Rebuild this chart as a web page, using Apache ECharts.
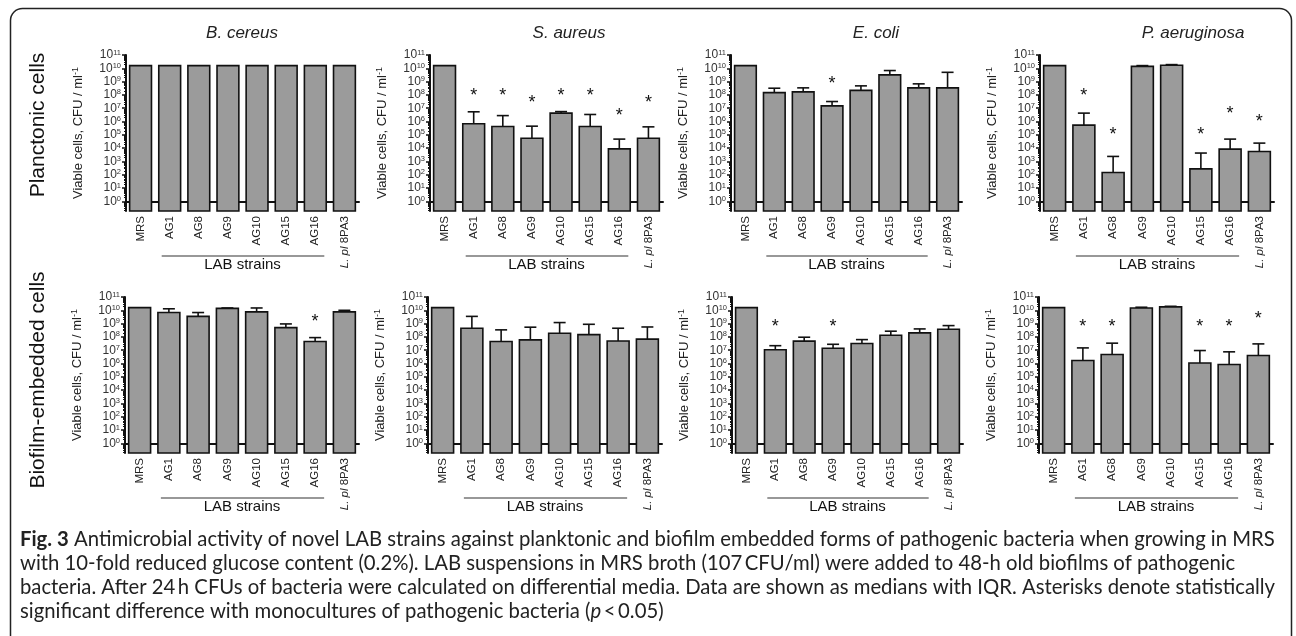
<!DOCTYPE html>
<html>
<head>
<meta charset="utf-8">
<script src="https://cdn.jsdelivr.net/npm/echarts@6/dist/echarts.min.js"></script>
<style>
  html, body { margin: 0; padding: 0; background: #fff; }
  #chart { width: 1296px; height: 636px; }
</style>
</head>
<body>
<div id="chart"></div>
<script>
// ── Data (CFU / ml, medians and upper quartile) ─────────────────────────────
const categories = ['MRS', 'AG1', 'AG8', 'AG9', 'AG10', 'AG15', 'AG16', 'L. pl 8PA3'];
const pathogens = ['B. cereus', 'S. aureus', 'E. coli', 'P. aeruginosa'];
const rowLabels = ['Planctonic cells', 'Biofilm-embedded cells'];
const yTickExponents = [0, 1, 2, 3, 4, 5, 6, 7, 8, 9, 10, 11];

// planktonic
const cereusPlankMedian = [1.6e10, 1.6e10, 1.6e10, 1.6e10, 1.6e10, 1.6e10, 1.6e10, 1.6e10];
const cereusPlankUpper  = [null, null, null, null, null, null, null, null];
const cereusPlankStar   = [null, null, null, null, null, null, null, null];

const aureusPlankMedian = [1.6e10, 6.8e5, 4.3e5, 5.6e4, 4.3e6, 4.3e5, 8.9e3, 5.6e4];
const aureusPlankUpper  = [null, 5.4e6, 2.8e6, 4.5e5, 5.6e6, 3.4e6, 4.8e4, 4.0e5];
const aureusPlankStar   = [null, 1.8e8, 1.8e8, 4.8e7, 1.8e8, 1.8e8, 5.6e6, 4.8e7];

const coliPlankMedian = [1.6e10, 1.5e8, 1.7e8, 1.5e7, 2.2e8, 3.2e9, 3.4e8, 3.4e8];
const coliPlankUpper  = [null, 3.2e8, 3.4e8, 3.2e7, 4.8e8, 6.8e9, 6.8e8, 5.0e9];
const coliPlankStar   = [null, null, null, 1.3e9, null, null, null, null];

const aerugPlankMedian = [1.6e10, 5.4e5, 150, 1.4e10, 1.7e10, 280, 8.5e3, 5.6e3];
const aerugPlankUpper  = [null, 4.3e6, 2.4e3, 1.6e10, 1.9e10, 4.3e3, 4.8e4, 2.4e4];
const aerugPlankStar   = [null, 1.6e8, 1.8e5, null, null, 1.8e5, 6.8e6, 1.8e6];

// biofilm-embedded
const cereusBioMedian = [1.6e10, 6.8e9, 3.5e9, 1.4e10, 7.6e9, 5.0e8, 4.5e7, 7.6e9];
const cereusBioUpper  = [null, 1.3e10, 6.8e9, 1.5e10, 1.5e10, 9.5e8, 8.9e7, 1.0e10];
const cereusBioStar   = [null, null, null, null, null, null, 2.8e9, null];

const aureusBioMedian = [1.6e10, 4.5e8, 4.5e7, 6.0e7, 1.9e8, 1.5e8, 5.0e7, 6.8e7];
const aureusBioUpper  = [null, 3.5e9, 3.4e8, 5.4e8, 1.2e9, 8.9e8, 4.5e8, 5.6e8];
const aureusBioStar   = [null, null, null, null, null, null, null, null];

const coliBioMedian = [1.6e10, 1.1e7, 4.8e7, 1.4e7, 3.2e7, 1.35e8, 2.0e8, 3.8e8];
const coliBioUpper  = [null, 2.2e7, 9.5e7, 2.8e7, 6.3e7, 2.7e8, 4.0e8, 7.1e8];
const coliBioStar   = [null, 1.1e9, null, 1.1e9, null, null, null, null];

const aerugBioMedian = [1.6e10, 1.7e6, 4.8e6, 1.5e10, 1.8e10, 1.1e6, 8.5e5, 4.0e6];
const aerugBioUpper  = [null, 1.5e7, 3.4e7, 1.7e10, 2.0e10, 9.5e6, 7.6e6, 3.0e7];
const aerugBioStar   = [null, 1.1e9, 1.1e9, null, null, 1.1e9, 1.1e9, 4.3e9];

const captionLines = [
  '{b|Fig. 3} Antimicrobial activity of novel LAB strains against planktonic and biofilm embedded forms of pathogenic bacteria when growing in MRS',
  'with 10-fold reduced glucose content (0.2%). LAB suspensions in MRS broth (107\u2009CFU/ml) were added to 48-h old biofilms of pathogenic',
  'bacteria. After 24\u2009h CFUs of bacteria were calculated on differential media. Data are shown as medians with IQR. Asterisks denote statistically',
  'significant difference with monocultures of pathogenic bacteria ({i|p}\u2009<\u20090.05)'
];

// ── Layout / style ──────────────────────────────────────────────────────────
const FONT = '"Liberation Sans", Arial, sans-serif';
const CAPTION_FONT = 'Lato, "Open Sans", sans-serif';
const Y_MIN = -0.72;
const Y_MAX = 11;
const BAR_RATIO = 0.75;
const CAP = 12;
const INK = '#111';
const BAR_FILL = '#9b9b9b';

const panels = [
  { median: cereusPlankMedian, upper: cereusPlankUpper, star: cereusPlankStar },
  { median: aureusPlankMedian, upper: aureusPlankUpper, star: aureusPlankStar },
  { median: coliPlankMedian, upper: coliPlankUpper, star: coliPlankStar },
  { median: aerugPlankMedian, upper: aerugPlankUpper, star: aerugPlankStar },
  { median: cereusBioMedian, upper: cereusBioUpper, star: cereusBioStar },
  { median: aureusBioMedian, upper: aureusBioUpper, star: aureusBioStar },
  { median: coliBioMedian, upper: coliBioUpper, star: coliBioStar },
  { median: aerugBioMedian, upper: aerugBioUpper, star: aerugBioStar },
];

const gridBoxes = [
  { left: 126, top: 55, width: 233, height: 156 },
  { left: 430, top: 55, width: 233, height: 156 },
  { left: 731, top: 55, width: 231, height: 156 },
  { left: 1040, top: 55, width: 234, height: 156 },
  { left: 125, top: 297, width: 234, height: 156 },
  { left: 428, top: 297, width: 234, height: 156 },
  { left: 732, top: 297, width: 231, height: 156 },
  { left: 1039, top: 297, width: 234, height: 156 },
];
const titleX = [242, 569, 876, 1193];

// ── Helpers ─────────────────────────────────────────────────────────────────
const minorTicks = [];
for (let e = -1; e < 11; e++) {
  for (let k = 2; k <= 9; k++) {
    const v = e + Math.log10(k);
    if (v > Y_MIN && v < Y_MAX) minorTicks.push(v);
  }
}

function makeRenderItem(panel) {
  return (params, api) => {
    const i = params.dataIndex;
    const x = api.coord([i, 0])[0];
    const yBase = api.coord([i, Y_MIN])[1];
    const yTop = api.coord([i, Math.log10(panel.median[i])])[1];
    const bw = api.size([1, 0])[0] * BAR_RATIO;
    const children = [];
    if (panel.upper[i] != null) {
      const yErr = api.coord([i, Math.log10(panel.upper[i])])[1];
      children.push({ type: 'line', shape: { x1: x, y1: yTop, x2: x, y2: yErr }, style: { stroke: INK, lineWidth: 1.6 } });
      children.push({ type: 'line', shape: { x1: x - CAP / 2, y1: yErr, x2: x + CAP / 2, y2: yErr }, style: { stroke: INK, lineWidth: 1.6 } });
    }
    children.push({
      type: 'rect',
      shape: { x: x - bw / 2, y: yTop, width: bw, height: yBase - yTop },
      style: { fill: BAR_FILL, stroke: INK, lineWidth: 1.6 },
    });
    if (panel.star[i] != null) {
      const yStar = api.coord([i, Math.log10(panel.star[i])])[1];
      children.push({
        type: 'text',
        style: { text: '*', x: x, y: yStar + 4, align: 'center', verticalAlign: 'middle', font: `18px ${FONT}`, fill: INK },
      });
    }
    return { type: 'group', children };
  };
}

function fitCaptionSize() {
  const ctx = document.createElement('canvas').getContext('2d');
  ctx.font = `bold 20px ${CAPTION_FONT}`;
  let w = ctx.measureText('Fig. 3').width;
  ctx.font = `20px ${CAPTION_FONT}`;
  w += ctx.measureText(captionLines[0].replace('{b|Fig. 3}', '')).width;
  return Math.round(20 * 1255 / w * 10) / 10;
}

// ── Option ──────────────────────────────────────────────────────────────────
const grids = [], xAxes = [], yAxes = [], series = [];

panels.forEach((panel, g) => {
  grids.push({ ...gridBoxes[g], containLabel: false });
  xAxes.push({
    type: 'category',
    gridIndex: g,
    data: categories,
    axisLine: { lineStyle: { color: INK, width: 2 } },
    axisTick: { alignWithLabel: true, length: 4, lineStyle: { color: INK, width: 1.5 } },
    axisLabel: {
      rotate: 90, interval: 0, margin: 5, fontSize: 11.5, fontFamily: FONT, color: '#222',
      formatter: v => v.startsWith('L. pl') ? `{i|L. pl} 8PA3` : v,
      rich: { i: { fontStyle: 'italic', fontSize: 11.5, fontFamily: FONT, color: '#222' } },
    },
  });
  yAxes.push({
    type: 'value',
    gridIndex: g,
    position: 'left',
    min: Y_MIN,
    max: Y_MAX,
    splitLine: { show: false },
    axisLine: { show: true, lineStyle: { color: INK, width: 2 } },
    axisTick: { show: true, customValues: yTickExponents, length: 4, lineStyle: { color: INK, width: 1.5 } },
    axisLabel: {
      customValues: yTickExponents,
      margin: 5,
      formatter: v => `{b|10}{s|${Math.round(v)}}`,
      rich: {
        b: { fontSize: 12, fontFamily: FONT, color: '#333' },
        s: { fontSize: 7.5, fontFamily: FONT, color: '#333', padding: [0, 0, 5, 0] },
      },
    },
    name: '{n|Viable cells, CFU / ml}{s|-1}',
    nameLocation: 'middle',
    nameGap: 40,
    nameTextStyle: {
      rich: {
        n: { fontSize: 13, fontFamily: FONT, color: '#222' },
        s: { fontSize: 9, fontFamily: FONT, color: '#222', padding: [0, 0, 6, 0] },
      },
    },
  });
  yAxes.push({
    type: 'value',
    gridIndex: g,
    position: 'left',
    offset: 0,
    min: Y_MIN,
    max: Y_MAX,
    splitLine: { show: false },
    axisLine: { show: false },
    axisLabel: { show: false },
    axisTick: { show: true, customValues: minorTicks, length: 2, lineStyle: { color: INK, width: 1 } },
  });
  series.push({
    type: 'custom',
    xAxisIndex: g,
    yAxisIndex: 2 * g,
    renderItem: makeRenderItem(panel),
    data: panel.median.map((v, i) => [i, Math.log10(v)]),
    encode: { x: 0, y: 1 },
    silent: true,
  });
});

const chart = echarts.init(document.getElementById('chart'), null, { renderer: 'canvas' });
chart.setOption({
  animation: false,
  backgroundColor: '#fff',
  grid: grids,
  xAxis: xAxes,
  yAxis: yAxes,
  series,
});

// ── Annotations: titles, LAB strain brackets, frame, caption ────────────────
const graphics = [];
graphics.push({
  type: 'rect', z: -1,
  shape: { x: 10.5, y: 8.5, width: 1281, height: 700, r: 12 },
  style: { fill: 'none', stroke: '#222', lineWidth: 1.5 },
});
pathogens.forEach((p, c) => {
  graphics.push({
    type: 'text',
    style: { text: p, x: titleX[c], y: 33, align: 'center', verticalAlign: 'middle', font: `italic 17px ${FONT}`, fill: '#222' },
  });
});
[125, 380].forEach((cy, r) => {
  graphics.push({
    type: 'text', x: 38, y: cy, rotation: Math.PI / 2,
    style: { text: rowLabels[r], x: 0, y: 0, align: 'center', verticalAlign: 'middle', font: `21px ${FONT}`, fill: '#111' },
  });
});
panels.forEach((panel, g) => {
  const x1 = chart.convertToPixel({ xAxisIndex: g }, 'AG1');
  const x2 = chart.convertToPixel({ xAxisIndex: g }, 'AG16');
  const yAxisBottom = gridBoxes[g].top + gridBoxes[g].height;
  graphics.push({
    type: 'line',
    shape: { x1: x1 - 8, y1: yAxisBottom + 45, x2: x2 + 9, y2: yAxisBottom + 45 },
    style: { stroke: '#333', lineWidth: 1.2 },
  });
  graphics.push({
    type: 'text',
    style: { text: 'LAB strains', x: (x1 + x2) / 2, y: yAxisBottom + 54, align: 'center', verticalAlign: 'middle', font: `15px ${FONT}`, fill: '#111' },
  });
});
const capSize = fitCaptionSize();
captionLines.forEach((line, k) => {
  graphics.push({
    type: 'text',
    style: {
      text: line, x: 20, y: 539 + k * 24, align: 'left', verticalAlign: 'middle',
      font: `${capSize}px ${CAPTION_FONT}`, fill: '#222',
      rich: {
        b: { fontWeight: 'bold', fontSize: capSize, fontFamily: CAPTION_FONT, fill: '#222' },
        i: { fontStyle: 'italic', fontSize: capSize, fontFamily: CAPTION_FONT, fill: '#222' },
      },
    },
  });
});
chart.setOption({ graphic: graphics });
window.addEventListener('resize', () => chart.resize());
</script>
</body>
</html>
